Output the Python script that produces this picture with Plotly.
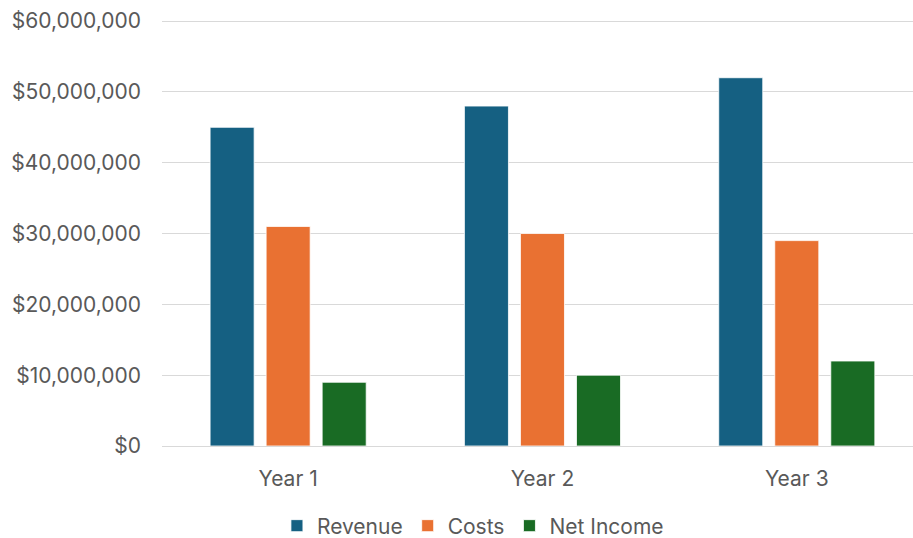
import plotly.graph_objects as go

categories = ["Year 1", "Year 2", "Year 3"]
revenue = [45000000, 48000000, 52000000]
costs = [31000000, 30000000, 29000000]
net_income = [9000000, 10000000, 12000000]
y_tick_values = [0, 10000000, 20000000, 30000000, 40000000, 50000000, 60000000]
y_tick_labels = ["$0", "$10,000,000", "$20,000,000", "$30,000,000",
                 "$40,000,000", "$50,000,000", "$60,000,000"]

colors = {"Revenue": "#156082", "Costs": "#E97132", "Net Income": "#196B24"}

fig = go.Figure()
for name, vals in [("Revenue", revenue), ("Costs", costs), ("Net Income", net_income)]:
    fig.add_trace(go.Bar(
        x=categories, y=vals, name=name,
        marker=dict(color=colors[name], line=dict(color="#FFFFFF", width=0.8)),
    ))

font_family = "Inter, 'Open Sans', sans-serif"
fs = 21
fig.update_layout(
    width=913, height=538,
    margin=dict(l=162, r=0, t=20, b=92, autoexpand=False),
    paper_bgcolor="white", plot_bgcolor="white",
    barmode="group", bargap=0.339, bargroupgap=0.214,
    font=dict(family=font_family, size=fs, color="#595959"),
    showlegend=True,
    legend=dict(orientation="h", x=0.518, xref="container", xanchor="center",
                y=(538 - 526) / 538, yref="container", yanchor="middle",
                font=dict(size=fs, color="#595959"), itemwidth=30, traceorder="normal"),
    xaxis=dict(range=[-0.496, 2.457], showgrid=False, showline=False, zeroline=False,
               automargin=False, ticks="", ticklabelstandoff=18,
               tickfont=dict(size=fs, color="#595959")),
    yaxis=dict(range=[0, 60150000], tickmode="array",
               tickvals=y_tick_values, ticktext=y_tick_labels,
               showgrid=True, gridcolor="#D9D9D9", gridwidth=1.3,
               zeroline=True, zerolinecolor="#D9D9D9", zerolinewidth=1.3,
               showline=False, ticks="", ticklabelstandoff=20, automargin=False,
               tickfont=dict(size=fs, color="#595959")),
)

fig.write_html("out.html", config={"displayModeBar": False},
               post_script="document.body.style.margin='0';")
